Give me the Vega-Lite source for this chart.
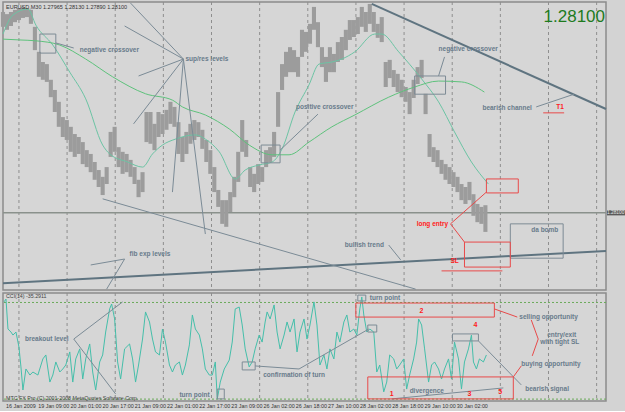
{
"$schema": "https://vega.github.io/schema/vega-lite/v6.json",
"padding": 0,
"background": "#d3d3d3",
"spacing": 3,
"bounds": "flush",
"config": {"view": {"stroke": "#8c8c8c", "strokeWidth": 1.5, "fill": "#d6d6d6"}, "axis": {"labelFont": "Liberation Sans", "labelColor": "#333333", "tickColor": "#777777", "domain": false, "grid": false, "title": null}},
"datasets": {
"grid": [{"g":16},{"g":64.3},{"g":112.6},{"g":160.9},{"g":209.2},{"g":257.5},{"g":305.8},{"g":354.1},{"g":402.4},{"g":450.7},{"g":499},{"g":547.3},{"g":595.6}],
"bars": [{"i":0,"h":1.3284,"l":1.3249},{"i":4,"h":1.3279,"l":1.3242},{"i":8,"h":1.3284,"l":1.3251},{"i":12,"h":1.3289,"l":1.326},{"i":16,"h":1.3293,"l":1.3265},{"i":20,"h":1.3296,"l":1.327},{"i":24,"h":1.3293,"l":1.3272},{"i":28,"h":1.3289,"l":1.3256},{"i":32,"h":1.3249,"l":1.3194},{"i":36,"h":1.319,"l":1.3131},{"i":40,"h":1.3166,"l":1.3124},{"i":44,"h":1.3161,"l":1.3119},{"i":48,"h":1.3124,"l":1.3083},{"i":52,"h":1.31,"l":1.3048},{"i":56,"h":1.3072,"l":1.3013},{"i":60,"h":1.3036,"l":1.2989},{"i":64,"h":1.3029,"l":1.2982},{"i":68,"h":1.3013,"l":1.2954},{"i":72,"h":1.2996,"l":1.2942},{"i":76,"h":1.2989,"l":1.2949},{"i":80,"h":1.2977,"l":1.2925},{"i":84,"h":1.2958,"l":1.2918},{"i":88,"h":1.2949,"l":1.2906},{"i":92,"h":1.293,"l":1.2888},{"i":96,"h":1.2911,"l":1.2871},{"i":100,"h":1.2895,"l":1.2852},{"i":104,"h":1.2918,"l":1.2878},{"i":108,"h":1.3001,"l":1.2942},{"i":112,"h":1.3013,"l":1.2954},{"i":116,"h":1.2965,"l":1.2918},{"i":120,"h":1.2954,"l":1.2902},{"i":124,"h":1.2949,"l":1.2906},{"i":128,"h":1.2935,"l":1.2895},{"i":132,"h":1.2918,"l":1.2878},{"i":136,"h":1.2888,"l":1.2847},{"i":140,"h":1.2906,"l":1.2859},{"i":144,"h":1.3048,"l":1.2977},{"i":148,"h":1.3048,"l":1.2973},{"i":152,"h":1.302,"l":1.2958},{"i":156,"h":1.3048,"l":1.2989},{"i":160,"h":1.3043,"l":1.2996},{"i":164,"h":1.3053,"l":1.3006},{"i":168,"h":1.3072,"l":1.302},{"i":172,"h":1.306,"l":1.3013},{"i":176,"h":1.3024,"l":1.2949},{"i":180,"h":1.2989,"l":1.293},{"i":184,"h":1.3001,"l":1.2949},{"i":188,"h":1.302,"l":1.2973},{"i":192,"h":1.3029,"l":1.2982},{"i":196,"h":1.3024,"l":1.2989},{"i":200,"h":1.3006,"l":1.2961},{"i":204,"h":1.2982,"l":1.293},{"i":208,"h":1.2958,"l":1.2902},{"i":212,"h":1.2918,"l":1.2859},{"i":216,"h":1.2864,"l":1.2824},{"i":220,"h":1.284,"l":1.2784},{"i":224,"h":1.284,"l":1.2777},{"i":228,"h":1.2859,"l":1.2812},{"i":232,"h":1.2895,"l":1.2847},{"i":236,"h":1.2954,"l":1.2883},{"i":240,"h":1.3029,"l":1.2954},{"i":244,"h":1.2982,"l":1.2942},{"i":248,"h":1.2918,"l":1.2871},{"i":252,"h":1.2902,"l":1.2859},{"i":256,"h":1.2925,"l":1.2878},{"i":260,"h":1.2918,"l":1.2883},{"i":264,"h":1.2958,"l":1.2918},{"i":268,"h":1.2965,"l":1.293},{"i":272,"h":1.3001,"l":1.2942},{"i":276,"h":1.3095,"l":1.3013},{"i":280,"h":1.3161,"l":1.31},{"i":284,"h":1.319,"l":1.3131},{"i":288,"h":1.3201,"l":1.3142},{"i":292,"h":1.3194,"l":1.3142},{"i":296,"h":1.3178,"l":1.3131},{"i":300,"h":1.3242,"l":1.3178},{"i":304,"h":1.3237,"l":1.319},{"i":308,"h":1.3256,"l":1.3209},{"i":312,"h":1.3296,"l":1.3242},{"i":316,"h":1.326,"l":1.3201},{"i":320,"h":1.3201,"l":1.3154},{"i":324,"h":1.3178,"l":1.3119},{"i":328,"h":1.3201,"l":1.3142},{"i":332,"h":1.3185,"l":1.3142},{"i":336,"h":1.3213,"l":1.3166},{"i":340,"h":1.3225,"l":1.3171},{"i":344,"h":1.3242,"l":1.3194},{"i":348,"h":1.3265,"l":1.3218},{"i":352,"h":1.3265,"l":1.3225},{"i":356,"h":1.3272,"l":1.3232},{"i":360,"h":1.3296,"l":1.3249},{"i":364,"h":1.3284,"l":1.3237},{"i":368,"h":1.3303,"l":1.3256},{"i":372,"h":1.3284,"l":1.3237},{"i":376,"h":1.3256,"l":1.3223},{"i":380,"h":1.3272,"l":1.3213},{"i":384,"h":1.3166,"l":1.3107},{"i":388,"h":1.3171,"l":1.3128},{"i":392,"h":1.3147,"l":1.3107},{"i":396,"h":1.3138,"l":1.3095},{"i":400,"h":1.3124,"l":1.3083},{"i":404,"h":1.3107,"l":1.3072},{"i":408,"h":1.3095,"l":1.3043},{"i":412,"h":1.3124,"l":1.3081},{"i":416,"h":1.3154,"l":1.3114},{"i":420,"h":1.3171,"l":1.3128},{"i":424,"h":1.3091,"l":1.3043},{"i":428,"h":1.2996,"l":1.2942},{"i":432,"h":1.2965,"l":1.293},{"i":436,"h":1.2958,"l":1.2918},{"i":440,"h":1.2935,"l":1.2902},{"i":444,"h":1.2925,"l":1.2888},{"i":448,"h":1.2918,"l":1.2878},{"i":452,"h":1.2906,"l":1.2871},{"i":456,"h":1.2895,"l":1.2859},{"i":460,"h":1.2878,"l":1.284},{"i":464,"h":1.2871,"l":1.2831},{"i":468,"h":1.2883,"l":1.284},{"i":472,"h":1.2854,"l":1.2803},{"i":476,"h":1.2831,"l":1.2788},{"i":480,"h":1.2824,"l":1.2784},{"i":484,"h":1.2828,"l":1.2765}],
"fast": [{"i":0,"p":1.3232},{"i":10,"p":1.3277},{"i":25,"p":1.3291},{"i":33,"p":1.3253},{"i":50,"p":1.3206},{"i":67,"p":1.3142},{"i":83,"p":1.3079},{"i":100,"p":1.297},{"i":107,"p":1.2949},{"i":125,"p":1.293},{"i":140,"p":1.2918},{"i":150,"p":1.2949},{"i":160,"p":1.297},{"i":173,"p":1.2984},{"i":193,"p":1.2994},{"i":203,"p":1.2984},{"i":217,"p":1.2954},{"i":233,"p":1.289},{"i":243,"p":1.2911},{"i":257,"p":1.2923},{"i":270,"p":1.293},{"i":280,"p":1.2961},{"i":293,"p":1.3048},{"i":307,"p":1.3112},{"i":317,"p":1.3161},{"i":330,"p":1.3166},{"i":340,"p":1.3173},{"i":353,"p":1.319},{"i":373,"p":1.3232},{"i":380,"p":1.3232},{"i":397,"p":1.319},{"i":420,"p":1.3126},{"i":437,"p":1.3072},{"i":453,"p":1.3001},{"i":470,"p":1.293},{"i":487,"p":1.2878}],
"slow": [{"i":0,"p":1.322},{"i":17,"p":1.3218},{"i":33,"p":1.3216},{"i":57,"p":1.3206},{"i":83,"p":1.3173},{"i":110,"p":1.3131},{"i":143,"p":1.3091},{"i":170,"p":1.3076},{"i":180,"p":1.306},{"i":203,"p":1.3041},{"i":227,"p":1.3008},{"i":247,"p":1.297},{"i":270,"p":1.2947},{"i":287,"p":1.2947},{"i":307,"p":1.2977},{"i":330,"p":1.3013},{"i":353,"p":1.3041},{"i":387,"p":1.3083},{"i":413,"p":1.3107},{"i":437,"p":1.3121},{"i":460,"p":1.3119},{"i":483,"p":1.3095}],
"thick": [{"x":370,"y":1.3303,"x2":605,"y2":1.3055},{"x":0,"y":1.2644,"x2":605,"y2":1.272}],
"thin": [{"x":53,"y":1.3211,"x2":71,"y2":1.3199},{"x":181,"y":1.3173,"x2":128,"y2":1.3305},{"x":181,"y":1.3173,"x2":122,"y2":1.3251},{"x":181,"y":1.3173,"x2":136,"y2":1.3133},{"x":181,"y":1.3173,"x2":131,"y2":1.302},{"x":181,"y":1.3173,"x2":170,"y2":1.2859},{"x":181,"y":1.3173,"x2":203,"y2":1.276},{"x":100,"y":1.2843,"x2":414,"y2":1.263},{"x":437,"y":1.3133,"x2":443,"y2":1.3178},{"x":278,"y":1.2958,"x2":316,"y2":1.3043},{"x":535,"y":1.306,"x2":573,"y2":1.309},{"x":387,"y":1.2734,"x2":399,"y2":1.2699},{"x":122,"y":1.2701,"x2":88,"y2":1.2687},{"x":122,"y":1.2701,"x2":104,"y2":1.263}],
"gbox": [{"x":37,"x2":53,"y":1.3232,"y2":1.3187},{"x":413,"x2":444,"y":1.3133,"y2":1.309},{"x":259,"x2":278,"y":1.297,"y2":1.2928},{"x":509,"x2":562,"y":1.2784,"y2":1.2703}],
"rbox": [{"x":485,"x2":517,"y":1.289,"y2":1.2857},{"x":463,"x2":509,"y":1.2741,"y2":1.2682}],
"rline": [{"x":449,"y":1.2784,"x2":485,"y2":1.2859},{"x":449,"y":1.2784,"x2":463,"y2":1.2741},{"x":542,"y":1.3046,"x2":563,"y2":1.3046},{"x":440,"y":1.2673,"x2":501,"y2":1.2673}],
"stext": [{"x":77,"y":1.3194,"t":"negative crossover"},{"x":183,"y":1.3173,"t":"sup/res levels"},{"x":294,"y":1.306,"t":"positive crossover"},{"x":437,"y":1.3197,"t":"negative crossover"},{"x":481,"y":1.3057,"t":"bearish channel"},{"x":343,"y":1.2734,"t":"bullish trend"},{"x":127,"y":1.2713,"t":"fib exp levels"},{"x":530,"y":1.277,"t":"da bomb"}],
"rtext": [{"x":555,"y":1.306,"t":"T1"},{"x":415,"y":1.2784,"t":"long entry"},{"x":449,"y":1.2696,"t":"SL"}],
"cci": [{"i":1,"v":243},{"i":3,"v":258},{"i":5,"v":100},{"i":8,"v":84},{"i":10,"v":68},{"i":13,"v":84},{"i":16,"v":5},{"i":18,"v":-100},{"i":20,"v":-222},{"i":23,"v":-111},{"i":27,"v":-143},{"i":30,"v":-127},{"i":35,"v":-143},{"i":40,"v":-58},{"i":43,"v":-37},{"i":47,"v":-180},{"i":50,"v":-143},{"i":53,"v":-74},{"i":57,"v":-127},{"i":60,"v":-111},{"i":63,"v":-90},{"i":67,"v":-21},{"i":70,"v":-180},{"i":73,"v":-58},{"i":77,"v":-5},{"i":80,"v":-164},{"i":83,"v":-58},{"i":87,"v":21},{"i":90,"v":-127},{"i":93,"v":-222},{"i":97,"v":-74},{"i":100,"v":-37},{"i":103,"v":84},{"i":107,"v":206},{"i":109,"v":232},{"i":112,"v":153},{"i":115,"v":-74},{"i":118,"v":-164},{"i":122,"v":-5},{"i":127,"v":21},{"i":130,"v":-58},{"i":133,"v":-180},{"i":136,"v":-90},{"i":140,"v":47},{"i":143,"v":190},{"i":147,"v":137},{"i":150,"v":47},{"i":153,"v":-21},{"i":157,"v":-37},{"i":160,"v":100},{"i":163,"v":31},{"i":167,"v":-90},{"i":170,"v":-127},{"i":173,"v":-90},{"i":177,"v":-74},{"i":180,"v":-143},{"i":183,"v":-90},{"i":187,"v":16},{"i":190,"v":174},{"i":193,"v":100},{"i":197,"v":68},{"i":200,"v":-5},{"i":203,"v":-111},{"i":207,"v":-143},{"i":210,"v":-143},{"i":213,"v":-74},{"i":215,"v":-269},{"i":218,"v":-180},{"i":222,"v":-111},{"i":227,"v":-64},{"i":230,"v":31},{"i":233,"v":206},{"i":237,"v":216},{"i":240,"v":121},{"i":243,"v":-5},{"i":247,"v":-100},{"i":250,"v":-74},{"i":253,"v":-5},{"i":257,"v":68},{"i":260,"v":31},{"i":263,"v":137},{"i":265,"v":190},{"i":268,"v":153},{"i":272,"v":227},{"i":275,"v":84},{"i":278,"v":-5},{"i":282,"v":68},{"i":285,"v":137},{"i":288,"v":84},{"i":292,"v":153},{"i":295,"v":-21},{"i":298,"v":84},{"i":302,"v":153},{"i":305,"v":47},{"i":308,"v":121},{"i":312,"v":243},{"i":315,"v":121},{"i":318,"v":-90},{"i":322,"v":-37},{"i":325,"v":-111},{"i":328,"v":-5},{"i":332,"v":-58},{"i":335,"v":84},{"i":338,"v":31},{"i":342,"v":137},{"i":345,"v":174},{"i":348,"v":84},{"i":352,"v":100},{"i":355,"v":68},{"i":358,"v":206},{"i":360,"v":269},{"i":362,"v":174},{"i":365,"v":84},{"i":368,"v":100},{"i":372,"v":84},{"i":375,"v":-127},{"i":378,"v":-90},{"i":382,"v":-232},{"i":385,"v":-180},{"i":388,"v":-37},{"i":392,"v":-58},{"i":395,"v":-111},{"i":398,"v":-90},{"i":402,"v":-58},{"i":405,"v":-217},{"i":408,"v":-143},{"i":412,"v":-58},{"i":415,"v":31},{"i":417,"v":153},{"i":420,"v":121},{"i":423,"v":-5},{"i":427,"v":-180},{"i":430,"v":-90},{"i":433,"v":-74},{"i":437,"v":-111},{"i":440,"v":-164},{"i":443,"v":-111},{"i":447,"v":-58},{"i":450,"v":-164},{"i":453,"v":31},{"i":457,"v":-58},{"i":460,"v":-217},{"i":463,"v":-74},{"i":467,"v":-5},{"i":470,"v":68},{"i":472,"v":-74},{"i":475,"v":-111},{"i":478,"v":-58},{"i":482,"v":-74},{"i":485,"v":-37}],
"levels": [{"v":240},{"v":-270}],
"cthin": [{"x":71,"v":47,"x2":120,"v2":243},{"x":71,"v":47,"x2":113,"v2":-243},{"x":253,"v":-95,"x2":297,"v2":-111},{"x":297,"v":-111,"x2":367,"v2":100},{"x":390,"v":-269,"x2":502,"v2":-211},{"x":477,"v":37,"x2":520,"v2":-195}],
"cgbox": [{"x":215,"x2":222,"v":-217,"v2":-269},{"x":240,"x2":253,"v":-74,"v2":-116},{"x":366,"x2":375,"v":121,"v2":84},{"x":356,"x2":364,"v":279,"v2":248},{"x":451,"x2":477,"v":74,"v2":37}],
"crbox": [{"x":354,"x2":493,"v":237,"v2":163},{"x":366,"x2":512,"v":-153,"v2":-269}],
"crline": [{"x":493,"v":206,"x2":516,"v2":163},{"x":512,"v":-153,"x2":520,"v2":-95},{"x":530,"v":148,"x2":537,"v2":47},{"x":537,"v":47,"x2":531,"v2":-42}],
"cstext": [{"x":22,"v":47,"t":"breakout level"},{"x":177,"v":-248,"t":"turn point"},{"x":261,"v":-143,"t":"confirmation of turn"},{"x":368,"v":264,"t":"turn point"},{"x":408,"v":-227,"t":"divergence"},{"x":524,"v":-217,"t":"bearish signal"},{"x":518,"v":163,"t":"selling opportunity"},{"x":520,"v":-85,"t":"buying opportunity"},{"x":546,"v":70,"t":"entry/exit"},{"x":539,"v":33,"t":"with tight SL"}],
"crtext": [{"x":418,"v":195,"t":"2"},{"x":388,"v":-243,"t":"1"},{"x":466,"v":-243,"t":"3"},{"x":497,"v":-232,"t":"5"},{"x":472,"v":121,"t":"4"}],
"ticks": [{"x":2,"t":"16 Jan 2009"},{"x":34.3,"t":"19 Jan 09:00"},{"x":66.6,"t":"20 Jan 01:00"},{"x":98.9,"t":"20 Jan 17:00"},{"x":131.2,"t":"21 Jan 09:00"},{"x":163.5,"t":"22 Jan 01:00"},{"x":195.8,"t":"22 Jan 17:00"},{"x":228.1,"t":"23 Jan 09:00"},{"x":260.4,"t":"26 Jan 02:00"},{"x":292.7,"t":"26 Jan 18:00"},{"x":325,"t":"27 Jan 10:00"},{"x":357.3,"t":"28 Jan 02:00"},{"x":389.6,"t":"28 Jan 18:00"},{"x":421.9,"t":"29 Jan 10:00"},{"x":454.2,"t":"30 Jan 02:00"}]
},
"vconcat": [
{
"width": 603, "height": 288,
"layer": [
{"data": {"name": "grid"}, "mark": {"type": "rule", "color": "#8e8e8e", "strokeDash": [3, 3], "strokeWidth": 1}, "encoding": {"x": {"field": "g", "type": "quantitative", "scale": {"domain": [0, 605], "nice": false, "zero": false}, "axis": null}}},
{"data": {"values": [{"p": 1.281}]}, "mark": {"type": "rule", "color": "#8a918c", "strokeWidth": 1.5}, "encoding": {"y": {"field": "p", "type": "quantitative", "scale": {"domain": [1.26279, 1.33076], "nice": false, "zero": false}, "axis": {"orient": "right", "values": [1.3284, 1.3246, 1.3208, 1.317, 1.3131, 1.3093, 1.3055, 1.3017, 1.2979, 1.294, 1.2902, 1.2864, 1.2826, 1.2788, 1.2749, 1.2711, 1.2673, 1.2635], "format": ".5f", "labelFontSize": 5.2, "tickSize": 2, "labelPadding": 1, "labelOverlap": false}}}},
{"data": {"name": "bars"}, "mark": {"type": "rule", "color": "#9c9c9c", "strokeWidth": 4.1}, "encoding": {"x": {"field": "i", "type": "quantitative", "axis": null}, "y": {"field": "l", "type": "quantitative", "axis": null}, "y2": {"field": "h"}}},
{"data": {"name": "fast"}, "mark": {"type": "line", "color": "#6cc4a4", "strokeWidth": 1, "interpolate": "monotone"}, "encoding": {"x": {"field": "i", "type": "quantitative", "axis": null}, "y": {"field": "p", "type": "quantitative", "axis": null}}},
{"data": {"name": "slow"}, "mark": {"type": "line", "color": "#5ec27c", "strokeWidth": 1, "interpolate": "monotone"}, "encoding": {"x": {"field": "i", "type": "quantitative", "axis": null}, "y": {"field": "p", "type": "quantitative", "axis": null}}},
{"data": {"name": "thick"}, "mark": {"type": "rule", "color": "#5f7480", "strokeWidth": 2}, "encoding": {"x": {"field": "x", "type": "quantitative", "axis": null}, "y": {"field": "y", "type": "quantitative", "axis": null}, "x2": {"field": "x2"}, "y2": {"field": "y2"}}},
{"data": {"name": "thin"}, "mark": {"type": "rule", "color": "#7b8b96", "strokeWidth": 1}, "encoding": {"x": {"field": "x", "type": "quantitative", "axis": null}, "y": {"field": "y", "type": "quantitative", "axis": null}, "x2": {"field": "x2"}, "y2": {"field": "y2"}}},
{"data": {"name": "gbox"}, "mark": {"type": "rect", "fill": null, "fillOpacity": 0, "stroke": "#7d8b95", "strokeWidth": 1}, "encoding": {"x": {"field": "x", "type": "quantitative", "axis": null}, "x2": {"field": "x2"}, "y": {"field": "y", "type": "quantitative", "axis": null}, "y2": {"field": "y2"}}},
{"data": {"name": "rbox"}, "mark": {"type": "rect", "fill": null, "fillOpacity": 0, "stroke": "#e84a4a", "strokeWidth": 1}, "encoding": {"x": {"field": "x", "type": "quantitative", "axis": null}, "x2": {"field": "x2"}, "y": {"field": "y", "type": "quantitative", "axis": null}, "y2": {"field": "y2"}}},
{"data": {"name": "rline"}, "mark": {"type": "rule", "color": "#e84a4a", "strokeWidth": 1}, "encoding": {"x": {"field": "x", "type": "quantitative", "axis": null}, "y": {"field": "y", "type": "quantitative", "axis": null}, "x2": {"field": "x2"}, "y2": {"field": "y2"}}},
{"data": {"name": "stext"}, "mark": {"type": "text", "align": "left", "baseline": "middle", "font": "Liberation Sans", "fontWeight": "bold", "fontSize": 6.5, "color": "#687b8b"}, "encoding": {"x": {"field": "x", "type": "quantitative", "axis": null}, "y": {"field": "y", "type": "quantitative", "axis": null}, "text": {"field": "t"}}},
{"data": {"name": "rtext"}, "mark": {"type": "text", "align": "left", "baseline": "middle", "font": "Liberation Sans", "fontWeight": "bold", "fontSize": 6.5, "color": "#ff2020"}, "encoding": {"x": {"field": "x", "type": "quantitative", "axis": null}, "y": {"field": "y", "type": "quantitative", "axis": null}, "text": {"field": "t"}}},
{"data": {"values": [{"x": 3, "y": 1.3296, "t": "EURUSD,M30  1.27965 1.28130 1.27890 1.28100"}]}, "mark": {"type": "text", "align": "left", "baseline": "middle", "font": "Liberation Sans", "fontSize": 5.5, "color": "#333333"}, "encoding": {"x": {"field": "x", "type": "quantitative", "axis": null}, "y": {"field": "y", "type": "quantitative", "axis": null}, "text": {"field": "t"}}},
{"data": {"values": [{"x": 604, "y": 1.3272, "t": "1.28100"}]}, "mark": {"type": "text", "align": "right", "baseline": "middle", "font": "Liberation Sans", "fontSize": 17, "color": "#1e7b1e"}, "encoding": {"x": {"field": "x", "type": "quantitative", "axis": null}, "y": {"field": "y", "type": "quantitative", "axis": null}, "text": {"field": "t"}}},
{"data": {"values": [{"x": 606, "x2": 627, "y": 1.2816, "y2": 1.2804}]}, "mark": {"type": "rect", "fill": "#5a5a5a"}, "encoding": {"x": {"field": "x", "type": "quantitative", "axis": null}, "x2": {"field": "x2"}, "y": {"field": "y", "type": "quantitative", "axis": null}, "y2": {"field": "y2"}}},
{"data": {"values": [{"x": 606, "y": 1.281, "t": "1.28100"}]}, "mark": {"type": "text", "align": "left", "baseline": "middle", "font": "Liberation Sans", "fontSize": 4.8, "color": "#e8e8e8"}, "encoding": {"x": {"field": "x", "type": "quantitative", "axis": null}, "y": {"field": "y", "type": "quantitative", "axis": null}, "text": {"field": "t"}}}
]
},
{
"width": 603, "height": 108,
"layer": [
{"data": {"name": "grid"}, "mark": {"type": "rule", "color": "#8e8e8e", "strokeDash": [3, 3], "strokeWidth": 1}, "encoding": {"x": {"field": "g", "type": "quantitative", "scale": {"domain": [0, 605], "nice": false, "zero": false}, "axis": null}}},
{"data": {"name": "levels"}, "mark": {"type": "rule", "color": "#6aaa5a", "strokeDash": [2, 2], "strokeWidth": 1}, "encoding": {"y": {"field": "v", "type": "quantitative", "scale": {"domain": [-280, 290], "nice": false, "zero": false}, "axis": {"orient": "right", "values": [259.257, 239.0227, 100, 0, -100, -270], "labelExpr": "datum.value > 250 ? '259.2570' : datum.value > 200 ? '239.0227' : datum.value == 0 ? '0.00' : datum.value < -200 ? '-270.00' : format(datum.value, 'd')", "labelFontSize": 5.2, "tickSize": 2, "labelPadding": 1, "labelOverlap": false}}}},
{"data": {"name": "cci"}, "mark": {"type": "line", "color": "#45bfaa", "strokeWidth": 1}, "encoding": {"x": {"field": "i", "type": "quantitative", "axis": null}, "y": {"field": "v", "type": "quantitative", "axis": null}}},
{"data": {"name": "cthin"}, "mark": {"type": "rule", "color": "#7b8b96", "strokeWidth": 1}, "encoding": {"x": {"field": "x", "type": "quantitative", "axis": null}, "y": {"field": "v", "type": "quantitative", "axis": null}, "x2": {"field": "x2"}, "y2": {"field": "v2"}}},
{"data": {"name": "cgbox"}, "mark": {"type": "rect", "fill": null, "fillOpacity": 0, "stroke": "#7d8b95", "strokeWidth": 1}, "encoding": {"x": {"field": "x", "type": "quantitative", "axis": null}, "x2": {"field": "x2"}, "y": {"field": "v", "type": "quantitative", "axis": null}, "y2": {"field": "v2"}}},
{"data": {"name": "crbox"}, "mark": {"type": "rect", "fill": null, "fillOpacity": 0, "stroke": "#e84a4a", "strokeWidth": 1}, "encoding": {"x": {"field": "x", "type": "quantitative", "axis": null}, "x2": {"field": "x2"}, "y": {"field": "v", "type": "quantitative", "axis": null}, "y2": {"field": "v2"}}},
{"data": {"name": "crline"}, "mark": {"type": "rule", "color": "#e84a4a", "strokeWidth": 1}, "encoding": {"x": {"field": "x", "type": "quantitative", "axis": null}, "y": {"field": "v", "type": "quantitative", "axis": null}, "x2": {"field": "x2"}, "y2": {"field": "v2"}}},
{"data": {"name": "cstext"}, "mark": {"type": "text", "align": "left", "baseline": "middle", "font": "Liberation Sans", "fontWeight": "bold", "fontSize": 6.5, "color": "#687b8b"}, "encoding": {"x": {"field": "x", "type": "quantitative", "axis": null}, "y": {"field": "v", "type": "quantitative", "axis": null}, "text": {"field": "t"}}},
{"data": {"name": "crtext"}, "mark": {"type": "text", "align": "left", "baseline": "middle", "font": "Liberation Sans", "fontWeight": "bold", "fontSize": 7, "color": "#ff2020"}, "encoding": {"x": {"field": "x", "type": "quantitative", "axis": null}, "y": {"field": "v", "type": "quantitative", "axis": null}, "text": {"field": "t"}}},
{"data": {"values": [{"x": 3, "v": 274, "t": "CCI(14) -35.2911"}, {"x": 3, "v": -266, "t": "MTC FX Pro (C) 2001-2008 MetaQuotes Software Corp."}]}, "mark": {"type": "text", "align": "left", "baseline": "middle", "font": "Liberation Sans", "fontSize": 5.3, "color": "#444444"}, "encoding": {"x": {"field": "x", "type": "quantitative", "axis": null}, "y": {"field": "v", "type": "quantitative", "axis": null}, "text": {"field": "t"}}},
{"data": {"name": "ticks"}, "mark": {"type": "text", "align": "left", "baseline": "top", "font": "Liberation Sans", "fontSize": 5.4, "color": "#333333", "dx": 1, "dy": 3}, "encoding": {"x": {"field": "x", "type": "quantitative", "axis": null}, "y": {"datum": -280, "type": "quantitative", "axis": null}, "text": {"field": "t"}}}
]
}
]
}
